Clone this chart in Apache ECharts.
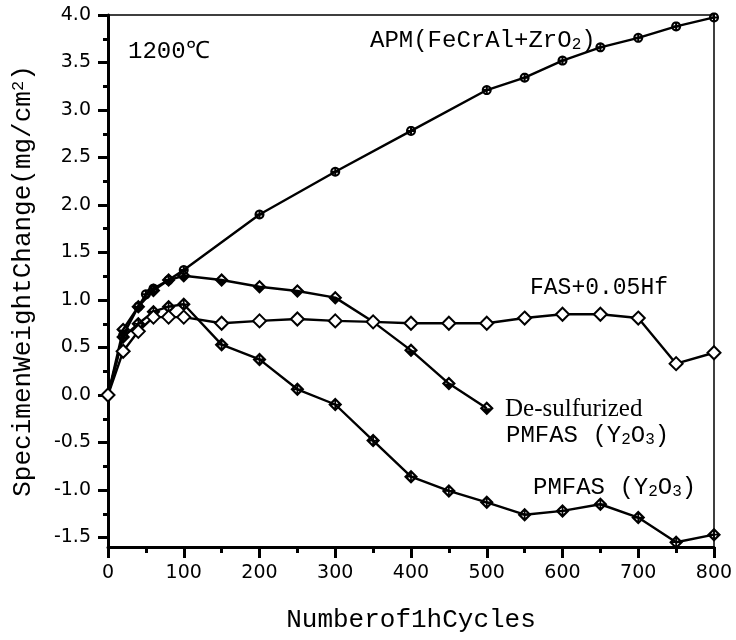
<!DOCTYPE html>
<html>
<head>
<meta charset="utf-8">
<script src="https://cdn.jsdelivr.net/npm/echarts@6/dist/echarts.min.js"></script>
<style>
  html, body { margin: 0; padding: 0; background: #fff; }
  #chart { width: 736px; height: 640px; }
</style>
</head>
<body>
<div id="chart"></div>
<script>
// 数据
const apmX = [0, 20, 40, 50, 60, 80, 100, 200, 300, 400, 500, 550, 600, 650, 700, 750, 800];
const apmY = [0, 0.63, 0.93, 1.06, 1.12, 1.21, 1.315, 1.90, 2.35, 2.78, 3.21, 3.34, 3.52, 3.66, 3.76, 3.88, 3.975];

const desulfX = [0, 20, 40, 60, 80, 100, 150, 200, 250, 300, 350, 400, 450, 500];
const desulfY = [0, 0.69, 0.93, 1.10, 1.21, 1.255, 1.21, 1.14, 1.095, 1.025, 0.77, 0.47, 0.12, -0.14];

const pmfasX = [0, 20, 40, 60, 80, 100, 150, 200, 250, 300, 350, 400, 450, 500, 550, 600, 650, 700, 750, 800];
const pmfasY = [0, 0.61, 0.75, 0.877, 0.93, 0.955, 0.53, 0.375, 0.06, -0.10, -0.48, -0.86, -1.01, -1.13, -1.26, -1.22, -1.15, -1.29, -1.55, -1.47];

const fasX = [0, 20, 40, 60, 80, 100, 150, 200, 250, 300, 350, 400, 450, 500, 550, 600, 650, 700, 750, 800];
const fasY = [0, 0.46, 0.67, 0.82, 0.82, 0.82, 0.755, 0.78, 0.80, 0.78, 0.77, 0.755, 0.755, 0.755, 0.81, 0.85, 0.85, 0.81, 0.33, 0.445];

const yMajor = [-1.5, -1.0, -0.5, 0, 0.5, 1.0, 1.5, 2.0, 2.5, 3.0, 3.5, 4.0];
const yMinor = [-1.25, -0.75, -0.25, 0.25, 0.75, 1.25, 1.75, 2.25, 2.75, 3.25, 3.75];

const zip = (xs, ys) => xs.map((x, i) => [x, ys[i]]);

// 符号路径
function ring(cx, cy, r, ccw) {
  const n = 24;
  let pts = [];
  for (let i = 0; i < n; i++) {
    const a = (ccw ? -1 : 1) * i * 2 * Math.PI / n;
    pts.push((cx + r * Math.sin(a)).toFixed(2) + ',' + (cy - r * Math.cos(a)).toFixed(2));
  }
  return 'M' + pts.join(' L') + ' Z';
}
const circlePlus = 'path://' + ring(50, 50, 50, false) + ' ' + ring(50, 50, 30, true) +
  ' M40,2 L60,2 L60,98 L40,98 Z M2,40 L98,40 L98,60 L2,60 Z';
const diamondPlus = 'path://M50,0 L100,50 L50,100 L0,50 Z M50,22 L22,50 L50,78 L78,50 Z' +
  ' M44,10 L56,10 L56,90 L44,90 Z M10,44 L90,44 L90,56 L10,56 Z';
const diamondHalf = 'path://M50,0 L100,50 L50,100 L0,50 Z M50,22 L22,50 L78,50 Z';

const MONO = '"Liberation Mono", "Courier New", monospace';
const SANS = '"DejaVu Sans", sans-serif';

function lineSeries(name, data, symbol, size, extra) {
  return Object.assign({
    name: name,
    type: 'line',
    data: data,
    symbol: symbol,
    symbolSize: size,
    showAllSymbol: true,
    lineStyle: { color: '#000', width: 2.4 },
    itemStyle: { color: '#000', borderColor: '#000', borderWidth: 0 },
    z: 3
  }, extra || {});
}

const subRich = {
  n: { fontFamily: MONO, fontSize: 24, lineHeight: 24, verticalAlign: 'top', color: '#000' },
  sub: { fontFamily: MONO, fontSize: 16, lineHeight: 16, verticalAlign: 'bottom', padding: [11, 0, 0, 0], color: '#000' }
};

const chart = echarts.init(document.getElementById('chart'));
chart.setOption({
  animation: false,
  backgroundColor: '#fff',
  grid: { left: 108, right: 22, top: 15, bottom: 93, show: true, borderColor: '#000', borderWidth: 1.5 },
  xAxis: {
    type: 'value', min: 0, max: 800, interval: 100,
    name: 'Numberof1hCycles', nameLocation: 'middle', nameGap: 60,
    nameTextStyle: { fontFamily: MONO, fontSize: 26, color: '#000' },
    axisLine: { show: true, onZero: false, lineStyle: { color: '#000', width: 3 } },
    axisTick: { show: true, length: 11, lineStyle: { color: '#000', width: 3 } },
    minorTick: { show: true, splitNumber: 2, length: 6, lineStyle: { color: '#000', width: 3 } },
    axisLabel: { fontFamily: SANS, fontSize: 19, color: '#000', margin: 17 },
    splitLine: { show: false }
  },
  yAxis: [{
    type: 'value', min: -1.6, max: 4.0,
    name: '{n|SpecimenWeightChange(mg/cm}{sup|2}{n|)}', nameLocation: 'middle', nameGap: 72,
    nameTextStyle: {
      rich: {
        n: { fontFamily: MONO, fontSize: 26, lineHeight: 26, verticalAlign: 'bottom', color: '#000' },
        sup: { fontFamily: MONO, fontSize: 17, lineHeight: 17, verticalAlign: 'top', padding: [0, 0, 9, 0], color: '#000' }
      }
    },
    axisLine: { show: true, onZero: false, lineStyle: { color: '#000', width: 3 } },
    axisTick: { show: true, length: 10, customValues: yMajor, lineStyle: { color: '#000', width: 3 } },
    axisLabel: { customValues: yMajor, formatter: v => v.toFixed(1), fontFamily: SANS, fontSize: 19, color: '#000', margin: 17 },
    splitLine: { show: false }
  }, {
    type: 'value', min: -1.6, max: 4.0, position: 'left', offset: 0,
    axisLine: { show: false, onZero: false },
    axisTick: { show: true, length: 5, customValues: yMinor, lineStyle: { color: '#000', width: 3 } },
    axisLabel: { show: false },
    splitLine: { show: false }
  }],
  series: [
    lineSeries('APM', zip(apmX, apmY), circlePlus, 10),
    lineSeries('De-sulfurized PMFAS', zip(desulfX, desulfY), diamondHalf, 14),
    lineSeries('PMFAS', zip(pmfasX, pmfasY), diamondPlus, 14),
    lineSeries('FAS+0.05Hf', zip(fasX, fasY), 'emptyDiamond', 13, {
      itemStyle: { color: '#000', borderColor: '#000', borderWidth: 2.5 }
    })
  ],
  graphic: [
    { type: 'text', x: 128, y: 52, style: { text: '1200℃', fontFamily: MONO, fontSize: 24, fill: '#000', verticalAlign: 'middle' } },
    { type: 'text', x: 370, y: 41, style: { text: '{n|APM(FeCrAl+ZrO}{sub|2}{n|)}', rich: subRich, verticalAlign: 'middle' } },
    { type: 'text', x: 530, y: 288, style: { text: 'FAS+0.05Hf', fontFamily: MONO, fontSize: 23, fill: '#000', verticalAlign: 'middle' } },
    { type: 'text', x: 505, y: 409, style: { text: 'De-sulfurized', fontFamily: '"Liberation Serif", serif', fontSize: 25, fill: '#000', verticalAlign: 'middle' } },
    { type: 'text', x: 506, y: 436, style: { text: '{n|PMFAS (Y}{sub|2}{n|O}{sub|3}{n|)}', rich: subRich, verticalAlign: 'middle' } },
    { type: 'text', x: 533, y: 488, style: { text: '{n|PMFAS (Y}{sub|2}{n|O}{sub|3}{n|)}', rich: subRich, verticalAlign: 'middle' } }
  ]
});
</script>
</body>
</html>
